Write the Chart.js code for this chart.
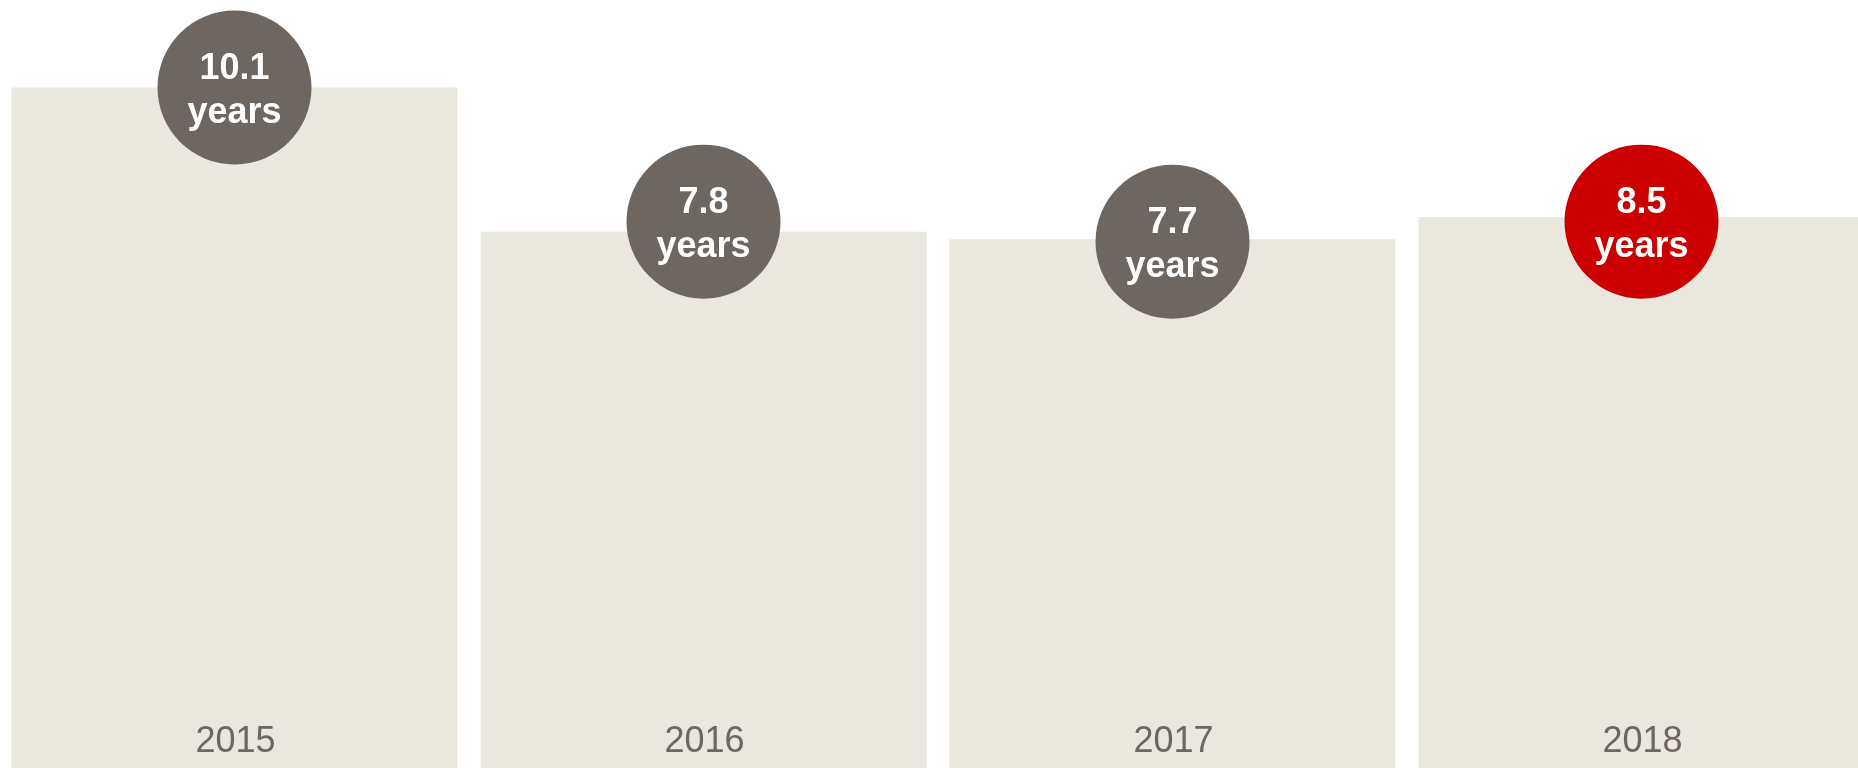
<!DOCTYPE html>
<html>
<head>
<meta charset="utf-8">
<script src="https://cdn.jsdelivr.net/npm/chart.js@4"></script>
<style>
  html, body { margin: 0; padding: 0; background: #ffffff; overflow: hidden; }
  #wrap { width: 1876px; height: 768px; }
  canvas { display: block; }
</style>
</head>
<body>
<div id="wrap"><canvas id="c" width="1876" height="768"></canvas></div>
<script>
// ---- data ----
const categories = ["2015", "2016", "2017", "2018"];
const barHeights = [10.1, 7.96, 7.85, 8.18];       // bar tops as drawn
const bubbleLevels = [10.1, 8.11, 7.81, 8.11];     // circle centres as drawn
const bubbleValues = ["10.1", "7.8", "7.7", "8.5"];
const bubbleUnit = "years";
const bubbleColors = ["#6e6660", "#6e6660", "#6e6660", "#cc0000"];
const axisMax = 11.4;

const BAR_COLOR = "#eae7df";
const TEXT_GRAY = "#6e6660";
const FONT = "'Liberation Sans', Arial, Helvetica, sans-serif";

const labelPlugin = {
  id: "labels",
  afterDatasetsDraw(chart) {
    const ctx = chart.ctx;
    const xs = chart.scales.x;
    const area = chart.chartArea;
    ctx.save();
    // category labels inside the bars
    ctx.fillStyle = TEXT_GRAY;
    ctx.font = "36px " + FONT;
    ctx.textAlign = "center";
    ctx.textBaseline = "alphabetic";
    categories.forEach((c, i) => {
      ctx.fillText(c, xs.getPixelForValue(i) + 1, area.bottom - 16);
    });
    // bubble texts
    const meta = chart.getDatasetMeta(1);
    ctx.fillStyle = "#ffffff";
    ctx.font = "bold 36px " + FONT;
    meta.data.forEach((pt, i) => {
      ctx.fillText(bubbleValues[i], pt.x, pt.y - 8.5);
      ctx.fillText(bubbleUnit, pt.x, pt.y + 35.5);
    });
    ctx.restore();
  }
};

new Chart(document.getElementById("c"), {
  type: "bar",
  data: {
    labels: categories,
    datasets: [
      {
        type: "bar",
        data: barHeights,
        backgroundColor: BAR_COLOR,
        borderWidth: 0,
        categoryPercentage: 1.0,
        barPercentage: 0.951,
        order: 2
      },
      {
        type: "line",
        data: bubbleLevels,
        showLine: false,
        pointRadius: 77,
        pointHoverRadius: 77,
        pointBackgroundColor: bubbleColors,
        pointBorderWidth: 0,
        pointBorderColor: "rgba(0,0,0,0)",
        clip: false,
        order: 1
      }
    ]
  },
  options: {
    responsive: false,
    animation: false,
    devicePixelRatio: 1,
    events: [],
    layout: { padding: 0, autoPadding: false },
    plugins: { legend: { display: false }, tooltip: { enabled: false } },
    scales: {
      x: { display: false, offset: true, grid: { display: false } },
      y: { display: false, min: 0, max: axisMax, grid: { display: false } }
    }
  },
  plugins: [labelPlugin]
});
</script>
</body>
</html>
